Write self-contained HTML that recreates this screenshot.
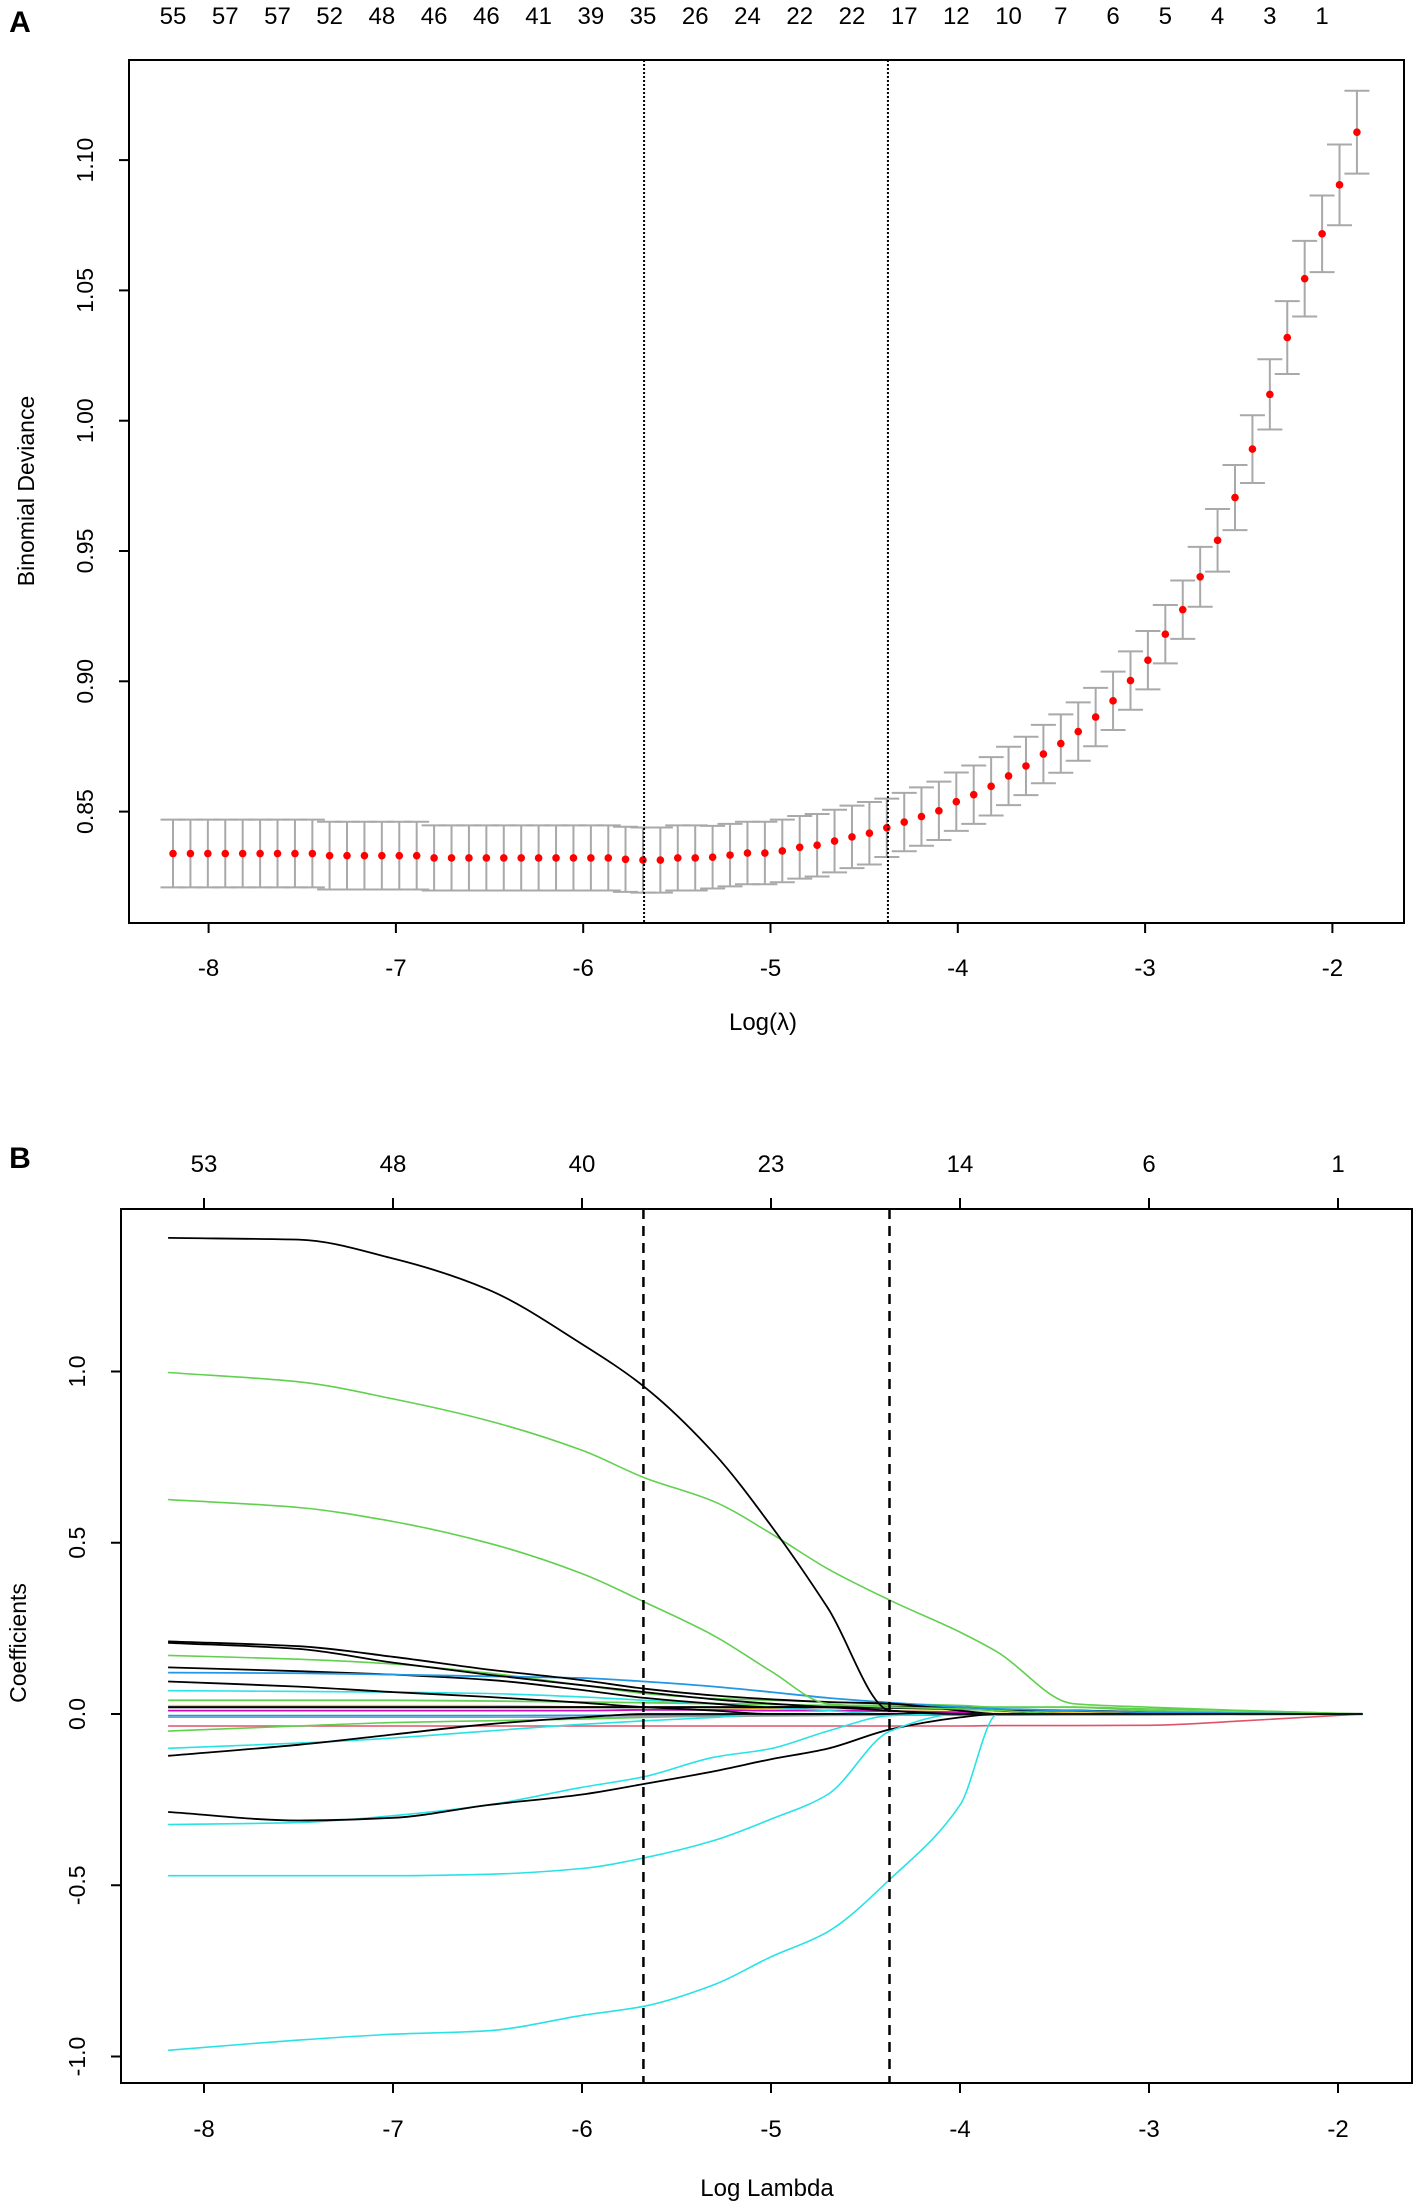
<!DOCTYPE html>
<html>
<head>
<meta charset="utf-8">
<style>
html,body{margin:0;padding:0;background:#fff;}
svg{display:block;font-family:"Liberation Sans",Arial,sans-serif;}
</style>
</head>
<body>
<svg id="fig" width="1418" height="2206" viewBox="0 0 1418 2206" xmlns="http://www.w3.org/2000/svg">
<rect x="0" y="0" width="1418" height="2206" fill="#fff"/>
<g id="panelA"></g>
<g id="panelB"></g>
</svg>
<script>
// ---------- Panel A data ----------
const logLambda = [-8.190,-8.097,-8.004,-7.911,-7.818,-7.725,-7.632,-7.539,-7.446,-7.354,-7.261,-7.168,-7.075,-6.982,-6.889,-6.796,-6.703,-6.610,-6.517,-6.424,-6.331,-6.238,-6.145,-6.052,-5.959,-5.866,-5.774,-5.681,-5.588,-5.495,-5.402,-5.309,-5.216,-5.123,-5.030,-4.937,-4.844,-4.751,-4.658,-4.565,-4.472,-4.379,-4.286,-4.194,-4.101,-4.008,-3.915,-3.822,-3.729,-3.636,-3.543,-3.450,-3.357,-3.264,-3.171,-3.078,-2.985,-2.892,-2.799,-2.706,-2.613,-2.520,-2.427,-2.334,-2.241,-2.148,-2.055,-1.962,-1.869];
const deviance = [0.8339,0.8339,0.8339,0.8339,0.8339,0.8339,0.8339,0.8339,0.8339,0.8331,0.8331,0.8331,0.8331,0.8331,0.8331,0.8322,0.8322,0.8322,0.8322,0.8322,0.8322,0.8322,0.8322,0.8322,0.8322,0.8322,0.8317,0.8314,0.8314,0.8322,0.8322,
0.8325,0.8333,0.8341,0.8341,0.8349,0.8363,0.8371,0.8387,0.8403,0.8417,0.8438,0.8460,0.8481,0.8503,0.8538,0.8565,0.8597,0.8637,0.8675,0.8721,0.8761,0.8807,0.8863,0.8925,0.9003,0.9081,0.9181,0.9275,0.9401,0.9541,0.9705,0.9891,1.0101,1.0319,1.0545,1.0717,1.0905,1.1107];
const stdErr = [0.013,0.013,0.013,0.013,0.013,0.013,0.013,0.013,0.013,0.013,0.013,0.013,0.013,0.013,0.013,0.0125,0.0125,0.0125,0.0125,0.0125,0.0125,0.0125,0.0125,0.0125,0.0125,0.0125,0.0125,0.0125,0.0125,0.0125,0.0125,
0.012,0.012,0.012,0.012,0.012,0.012,0.012,0.012,0.012,0.012,0.0112,0.0112,0.0112,0.0112,0.0112,0.0112,0.0112,0.0112,0.0112,0.0112,0.0112,0.0112,0.0112,0.0112,0.0112,0.0112,0.0112,0.0112,0.0115,0.012,0.0125,0.013,0.0135,0.014,0.0145,0.0147,0.0155,0.0159];
const nonzeroTopA = [55,57,57,52,48,46,46,41,39,35,26,24,22,22,17,12,10,7,6,5,4,3,1];
const xTicksA = [-8,-7,-6,-5,-4,-3,-2];
const yTicksA = [0.85,0.90,0.95,1.00,1.05,1.10];
const cutoffsA = [-5.675,-4.373];

// ---------- Panel B data ----------
const knots = [-8.19,-7.5,-7,-6.5,-6,-5.67,-5.3,-5,-4.7,-4.37,-4,-3.8,-3.4,-3,-2.5,-1.87];
const pathBlack1 = [1.39,1.385,1.33,1.24,1.08,0.955,0.76,0.55,0.31,0.01,0,0,0,0,0,0];
const pathGreen1 = [0.997,0.97,0.92,0.857,0.77,0.69,0.62,0.527,0.424,0.332,0.239,0.18,0.03,0.02,0.01,0];
const pathGreen2 = [0.626,0.603,0.562,0.5,0.41,0.327,0.228,0.125,0.03,0.02,0.015,0.01,0,0,0,0];
const pathCyan1 = [-0.982,-0.952,-0.935,-0.925,-0.88,-0.853,-0.79,-0.709,-0.636,-0.482,-0.266,0,0,0,0,0];
const pathCyan2 = [-0.472,-0.472,-0.472,-0.468,-0.451,-0.42,-0.369,-0.307,-0.235,-0.05,0,0,0,0,0,0];
const pathBlack2 = [-0.286,-0.311,-0.303,-0.266,-0.235,-0.204,-0.167,-0.132,-0.101,-0.045,-0.01,0,0,0,0,0];
const pathCyan3 = [-0.323,-0.317,-0.297,-0.266,-0.214,-0.183,-0.126,-0.101,-0.05,-0.005,0,0,0,0,0,0];
const pathBlack3 = [-0.122,-0.09,-0.06,-0.03,-0.01,0,0,0,0,0,0,0,0,0,0,0];
const pathCyan4 = [-0.1,-0.085,-0.07,-0.05,-0.03,-0.02,-0.01,0,0,0,0,0,0,0,0,0];
const pathBlack4 = [0.212,0.198,0.167,0.13,0.099,0.074,0.054,0.043,0.035,0.03,0.01,0,0,0,0,0];
const pathBlack5 = [0.208,0.19,0.15,0.115,0.084,0.064,0.043,0.03,0.02,0.01,0,0,0,0,0,0];
const pathBlue1 = [0.121,0.119,0.115,0.11,0.105,0.095,0.08,0.064,0.047,0.033,0.02,0.015,0.01,0.005,0.002,0];
const pathGreen3 = [0.171,0.16,0.146,0.12,0.084,0.06,0.045,0.04,0.035,0.03,0.025,0.02,0.02,0.015,0.01,0];
const pathBlack6 = [0.136,0.125,0.115,0.1,0.07,0.047,0.03,0.02,0.02,0.02,0.02,0.01,0,0,0,0];
const pathBlack7 = [0.095,0.08,0.064,0.05,0.033,0.02,0.01,0,0,0,0,0,0,0,0,0];
const pathCyan5 = [0.068,0.066,0.064,0.06,0.05,0.04,0.03,0.02,0.01,0,0,0,0,0,0,0];
const pathGreen4 = [0.04,0.04,0.04,0.038,0.035,0.033,0.03,0.028,0.025,0.025,0.022,0.02,0.02,0.01,0.005,0];
const pathBlack8 = [0.02,0.02,0.02,0.02,0.02,0.02,0.02,0.02,0.02,0.018,0.015,0.012,0.01,0.005,0,0];
const pathMagenta1 = [0.01,0.01,0.01,0.01,0.01,0.012,0.012,0.01,0.01,0.008,0.005,0,0,0,0,0];
const pathPurple1 = [-0.01,-0.01,-0.01,-0.01,-0.01,-0.008,-0.008,-0.006,-0.005,-0.004,0,0,0,0,0,0];
const pathBlue2 = [-0.005,-0.005,-0.005,-0.005,-0.004,-0.004,-0.004,-0.003,-0.003,-0.003,-0.003,-0.003,-0.002,-0.002,-0.001,0];
const pathPink1 = [0.025,0.025,0.025,0.025,0.022,0.02,0.018,0.015,0.012,0.01,0.008,0.006,0.004,0.002,0,0];
const pathGreen5 = [-0.05,-0.035,-0.025,-0.02,-0.015,-0.01,-0.005,0,0,0,0,0,0,0,0,0];
const pathRed1 = [-0.035,-0.035,-0.035,-0.035,-0.035,-0.035,-0.035,-0.035,-0.035,-0.035,-0.035,-0.034,-0.034,-0.033,-0.02,0];
const nonzeroTopB = [53,48,40,23,14,6,1];
const xTicksB = [-8,-7,-6,-5,-4,-3,-2];
const yTicksB = [-1.0,-0.5,0.0,0.5,1.0];
const cutoffsB = [-5.675,-4.373];

const NS = 'http://www.w3.org/2000/svg';
function mk(parent, tag, attrs, text) {
  const el = document.createElementNS(NS, tag);
  for (const k in attrs) el.setAttribute(k, attrs[k]);
  if (text !== undefined) el.textContent = text;
  parent.appendChild(el);
  return el;
}

// monotone cubic (Fritsch-Carlson) path through given points
function monotonePath(xs, ys) {
  const n = xs.length;
  const d = [], m = new Array(n);
  for (let i = 0; i < n - 1; i++) d.push((ys[i+1] - ys[i]) / (xs[i+1] - xs[i]));
  m[0] = d[0]; m[n-1] = d[n-2];
  for (let i = 1; i < n - 1; i++) {
    if (d[i-1] * d[i] <= 0) m[i] = 0;
    else m[i] = 2 / (1 / d[i-1] + 1 / d[i]);
  }
  let s = 'M' + xs[0].toFixed(1) + ',' + ys[0].toFixed(1);
  for (let i = 0; i < n - 1; i++) {
    const h = xs[i+1] - xs[i];
    s += 'C' + (xs[i] + h/3).toFixed(1) + ',' + (ys[i] + m[i]*h/3).toFixed(1) + ' ' +
         (xs[i+1] - h/3).toFixed(1) + ',' + (ys[i+1] - m[i+1]*h/3).toFixed(1) + ' ' +
         xs[i+1].toFixed(1) + ',' + ys[i+1].toFixed(1);
  }
  return s;
}

// ---------- Panel A ----------
(function(){
  const g = document.getElementById('panelA');
  const L = 129, R = 1404, T = 60, B = 923;
  const xA = v => 208.6 + (v + 8) * 187.3;
  const yA = d => 811.6 - (d - 0.85) / 0.05 * 130.3;

  const lbl = mk(g, 'text', {x: 20, y: 32, 'font-size': 30, 'font-weight': 'bold', 'text-anchor': 'middle'}, 'A');
  
  

  const box = mk(g, 'rect', {x: L, y: T, width: R - L, height: B - T, fill: 'none', stroke: '#000', 'stroke-width': 2});
  
  

  xTicksA.forEach(v => {
    const t = mk(g, 'line', {x1: xA(v), x2: xA(v), y1: B, y2: B + 10, stroke: '#000', 'stroke-width': 2});
    
    
    const tl = mk(g, 'text', {x: xA(v), y: 976, 'font-size': 24, 'text-anchor': 'middle'}, String(v));
    
    
  });
  yTicksA.forEach(v => {
    const t = mk(g, 'line', {x1: L - 10, x2: L, y1: yA(v), y2: yA(v), stroke: '#000', 'stroke-width': 2});
    
    
    const tl = mk(g, 'text', {x: 0, y: 0, 'font-size': 23, 'text-anchor': 'middle', transform: `translate(93,${yA(v)}) rotate(-90)`}, v.toFixed(2));
    
    
  });
  nonzeroTopA.forEach((n, k) => {
    const t = mk(g, 'text', {x: xA(logLambda[k * 3]), y: 24, 'font-size': 24, 'text-anchor': 'middle'}, String(n));
    
    
  });
  const xt = mk(g, 'text', {x: 763, y: 1030, 'font-size': 24, 'text-anchor': 'middle'}, 'Log(λ)');
  
  
  const yt = mk(g, 'text', {x: 0, y: 0, 'font-size': 23, 'text-anchor': 'middle', transform: 'translate(34,491) rotate(-90)'}, 'Binomial Deviance');
  
  

  logLambda.forEach((lv, i) => {
    const x = xA(lv), up = yA(deviance[i] + stdErr[i]), lo = yA(deviance[i] - stdErr[i]);
    const bar = mk(g, 'path', {d: `M${x},${up}V${lo}M${x-12.5},${up}H${x+12.5}M${x-12.5},${lo}H${x+12.5}`, stroke: '#a9a9a9', 'stroke-width': 2, fill: 'none'});
    
    
  });
  logLambda.forEach((lv, i) => {
    const p = mk(g, 'circle', {cx: xA(lv), cy: yA(deviance[i]), r: 3.8, fill: '#ff0000'});
    
    
  });
  cutoffsA.forEach(v => {
    const l = mk(g, 'line', {x1: xA(v), x2: xA(v), y1: T, y2: B, stroke: '#000', 'stroke-width': 2, 'stroke-dasharray': '2,2'});
    
    
  });
})();

// ---------- Panel B ----------
(function(){
  const g = document.getElementById('panelB');
  const L = 121, R = 1412, T = 1209, B = 2083;
  const xB = v => 204 + (v + 8) * 189;
  const yB = c => 1714 - c * 342.5;

  const lbl = mk(g, 'text', {x: 20, y: 1168, 'font-size': 30, 'font-weight': 'bold', 'text-anchor': 'middle'}, 'B');
  
  

  const paths = [
    [pathRed1, '#DF536B', 1.6], [pathGreen5, '#61D04F', 1.6], [pathPink1, '#F5C710', 1.0],
    [pathBlue2, '#2297E6', 1.8], [pathPurple1, '#9E9E9E', 1.2], [pathMagenta1, '#CD0BBC', 1.8],
    [pathBlack8, '#000000', 2.2], [pathGreen4, '#61D04F', 1.8], [pathCyan5, '#28E2E5', 1.6],
    [pathBlack7, '#000000', 1.8], [pathBlack6, '#000000', 1.8], [pathGreen3, '#61D04F', 1.6],
    [pathBlue1, '#2297E6', 1.8], [pathBlack5, '#000000', 1.8], [pathBlack4, '#000000', 1.8],
    [pathCyan4, '#28E2E5', 1.6], [pathBlack3, '#000000', 1.8], [pathCyan3, '#28E2E5', 1.6],
    [pathBlack2, '#000000', 1.8], [pathCyan2, '#28E2E5', 1.6], [pathCyan1, '#28E2E5', 1.6],
    [pathGreen2, '#61D04F', 1.6], [pathGreen1, '#61D04F', 1.6], [pathBlack1, '#000000', 1.8]
  ];
  paths.forEach(([vals, col, w]) => {
    const xs = knots.map(xB), ys = vals.map(yB);
    const p = mk(g, 'path', {d: monotonePath(xs, ys), stroke: col, 'stroke-width': w, fill: 'none', 'stroke-linejoin': 'round'});
    
    
  });

  const box = mk(g, 'rect', {x: L, y: T, width: R - L, height: B - T, fill: 'none', stroke: '#000', 'stroke-width': 2});
  
  

  xTicksB.forEach(v => {
    const t = mk(g, 'line', {x1: xB(v), x2: xB(v), y1: B, y2: B + 10, stroke: '#000', 'stroke-width': 2});
    
    
    const tl = mk(g, 'text', {x: xB(v), y: 2137, 'font-size': 24, 'text-anchor': 'middle'}, String(v));
    
    
  });
  nonzeroTopB.forEach((n, k) => {
    const v = xTicksB[k];
    const t = mk(g, 'line', {x1: xB(v), x2: xB(v), y1: T, y2: T - 11, stroke: '#000', 'stroke-width': 2});
    
    
    const tl = mk(g, 'text', {x: xB(v), y: 1172, 'font-size': 24, 'text-anchor': 'middle'}, String(n));
    
    
  });
  yTicksB.forEach(v => {
    const t = mk(g, 'line', {x1: L - 10, x2: L, y1: yB(v), y2: yB(v), stroke: '#000', 'stroke-width': 2});
    
    
    const tl = mk(g, 'text', {x: 0, y: 0, 'font-size': 23, 'text-anchor': 'middle', transform: `translate(85,${yB(v)}) rotate(-90)`}, v.toFixed(1));
    
    
  });
  const xt = mk(g, 'text', {x: 767, y: 2196, 'font-size': 24, 'text-anchor': 'middle'}, 'Log Lambda');
  
  
  const yt = mk(g, 'text', {x: 0, y: 0, 'font-size': 23, 'text-anchor': 'middle', transform: 'translate(26,1643) rotate(-90)'}, 'Coefficients');
  
  

  cutoffsB.forEach(v => {
    const l = mk(g, 'line', {x1: xB(v), x2: xB(v), y1: T, y2: B, stroke: '#000', 'stroke-width': 2.5, 'stroke-dasharray': '10,7'});
    
    
  });
})();
</script>
</body>
</html>
